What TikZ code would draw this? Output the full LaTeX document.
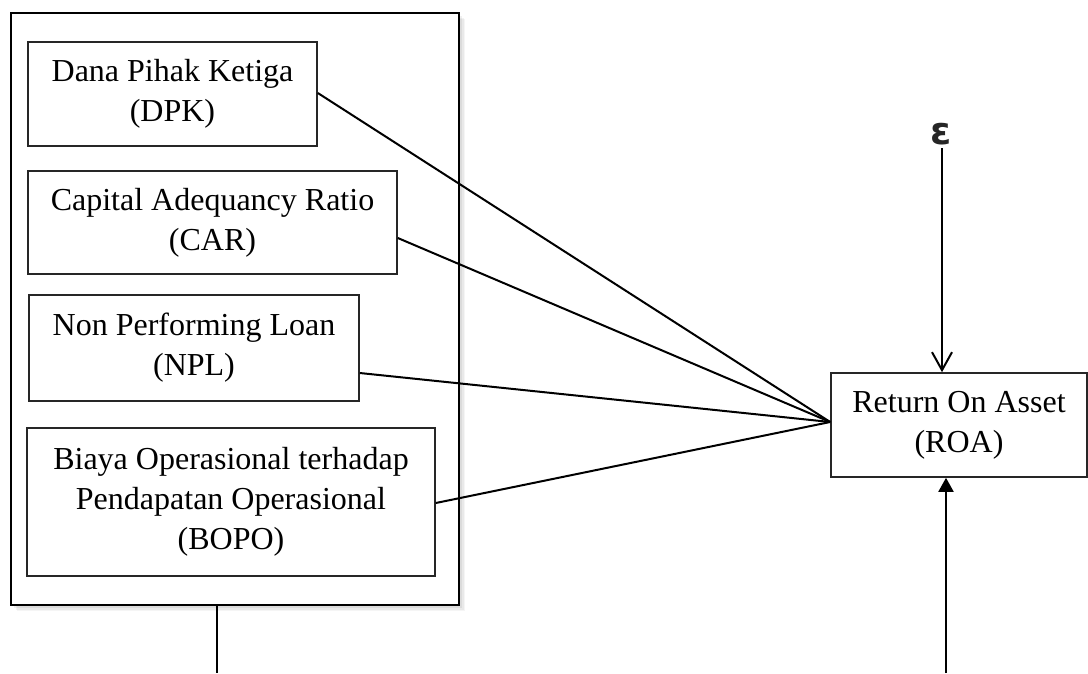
\documentclass[tikz,border=0pt]{standalone}
\usepackage{fontspec}
\setmainfont{Liberation Serif}
\newfontfamily\epsfont{DejaVu Sans}
\usetikzlibrary{arrows.meta,calc}
\begin{document}
\begin{tikzpicture}[x=1pt,y=-1pt,
  varbox/.style={draw=black!85,line width=1.6pt,inner sep=0pt,align=center,
    font=\fontsize{32}{40}\selectfont},
  link/.style={draw=black,line width=2pt}]
\useasboundingbox (0,0) rectangle (1088,673);
% soft shadow behind the group frame
\foreach \o/\a in {6/0.04,4.5/0.05,3/0.06}{
  \fill[black,opacity=\a] (11+\o,13+\o) rectangle (459+\o,605+\o);}
\node[draw=black,line width=2.4pt,fill=white,minimum width=448,minimum height=592,inner sep=0pt]
  (group) at (235,309) {};
% independent variables
\node[varbox,minimum width=289,minimum height=104] (dpk) at (172.5,94) {Dana Pihak Ketiga\\(DPK)};
\node[varbox,minimum width=369,minimum height=103] (car) at (212.5,222.5) {Capital Adequancy Ratio\\(CAR)};
\node[varbox,minimum width=330,minimum height=106] (npl) at (194,348) {Non Performing Loan\\(NPL)};
\node[varbox,minimum width=408,minimum height=148] (bopo) at (231,502) {Biaya Operasional terhadap\\Pendapatan Operasional\\(BOPO)};
% dependent variable
\node[varbox,minimum width=256,minimum height=104] (roa) at (959,425) {Return On Asset\\(ROA)};
% error term
\node[font=\epsfont\bfseries\fontsize{38}{38}\selectfont,text=black!85,inner sep=0pt] (eps) at (941,134) {ε};
% connectors
\coordinate (meet) at ([yshift=3pt]roa.west);
\draw[link] ([yshift=1pt]dpk.east) -- (meet);
\draw[link] ([yshift=-15.5pt]car.east) -- (meet);
\draw[link] ([yshift=-25pt]npl.east) -- (meet);
\draw[link] ([yshift=-1pt]bopo.east) -- (meet);
\coordinate (epstop) at (942,148);
\draw[link,-{Straight Barb[length=18pt,width=20pt,line width=2pt]}] (epstop) -- (epstop |- roa.north);
\coordinate (grpend) at (217,673);
\coordinate (roaend) at (946,673);
\draw[line width=2.4pt] (group.south -| grpend) -- (grpend);
\draw[link,-{Triangle[length=14pt,width=15pt]}] (roaend) -- (roaend |- roa.south);
\end{tikzpicture}
\end{document}
